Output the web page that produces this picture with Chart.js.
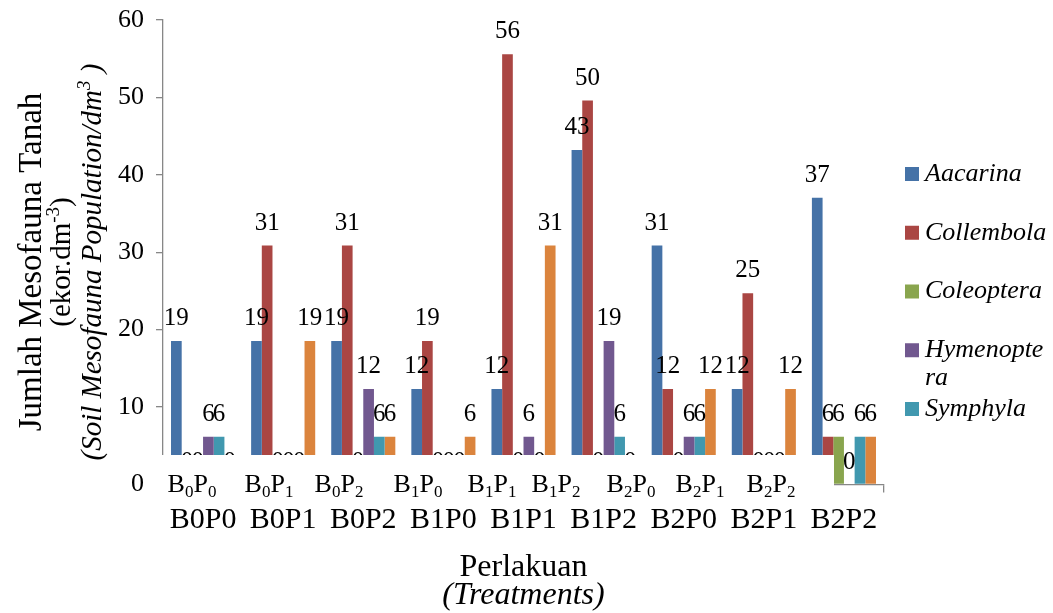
<!DOCTYPE html>
<html>
<head>
<meta charset="utf-8">
<title>Jumlah Mesofauna Tanah</title>
<script src="https://cdn.jsdelivr.net/npm/chart.js@4.4.1/dist/chart.umd.min.js"></script>
<style>
  html, body { margin: 0; padding: 0; background: #ffffff; }
  #wrap { width: 1053px; height: 613px; position: relative; }
</style>
</head>
<body>
<div id="wrap"><canvas id="chart" width="1053" height="613"></canvas></div>
<script>
// ---- data (ekor.dm-3) ----
const categories  = ['B0P0', 'B0P1', 'B0P2', 'B1P0', 'B1P1', 'B1P2', 'B2P0', 'B2P1', 'B2P2'];
const seriesNames = ['Aacarina', 'Collembola', 'Coleoptera', 'Hymenoptera', 'Symphyla', 'Protura'];
const aacarina    = [18.52, 18.52, 18.52, 12.35, 12.35, 43.21, 30.86, 12.35, 37.04];
const collembola  = [0, 30.86, 30.86, 18.52, 55.56, 49.6, 12.35, 24.69, 6.17];
const coleoptera  = [0, 0, 0, 0, 0, 0, 0, 0, 6.17];
const hymenoptera = [6.17, 0, 12.35, 0, 6.17, 18.52, 6.17, 0, 0];
const symphyla    = [6.17, 0, 6.17, 0, 0, 6.17, 6.17, 0, 6.17];
const protura     = [0, 18.52, 6.17, 6.17, 30.86, 0, 12.35, 12.35, 6.17];
const yTicks      = [0, 10, 20, 30, 40, 50, 60];

// ---- look ----
const SERIF = '"Liberation Serif", "Times New Roman", serif';
const COLORS = ['#4572A7', '#AA4643', '#89A54E', '#71588F', '#4198AF', '#DB843D'];
const AXIS_GREY = '#878787';
// text box with subscripted treatment codes laid over the foot of the bars
const BOX = { left: 150, top: 455, right: 834, bottom: 503 };
const BOX_LABEL_X = [192, 269, 339, 418, 492, 556, 631, 700, 771];
const BOX_BASELINE = 492;

function font(size, italic) {
  return (italic ? 'italic ' : '') + size + 'px ' + SERIF;
}

// draws a row of text runs (used for sub/superscripts)
function drawRuns(ctx, runs, x, y, align) {
  let total = 0;
  runs.forEach(r => {
    ctx.font = font(r.size, r.italic);
    r.w = ctx.measureText(r.t).width;
    total += r.w;
  });
  let cx = align === 'center' ? x - total / 2 : (align === 'right' ? x - total : x);
  ctx.textAlign = 'left';
  runs.forEach(r => {
    ctx.font = font(r.size, r.italic);
    ctx.fillText(r.t, cx, y + (r.dy || 0));
    cx += r.w;
  });
}

// character-level wrapping like the legend box does
function wrapChars(ctx, text, maxW) {
  const lines = [];
  let cur = '';
  for (const ch of text) {
    if (cur && ctx.measureText(cur + ch).width > maxW) { lines.push(cur); cur = ch; }
    else cur += ch;
  }
  if (cur) lines.push(cur);
  return lines;
}

const annotations = {
  id: 'annotations',
  afterDatasetsDraw(chart) {
    const ctx = chart.ctx;
    ctx.save();
    // value labels above each bar
    ctx.fillStyle = '#000';
    ctx.font = font(25, false);
    ctx.textAlign = 'center';
    ctx.textBaseline = 'alphabetic';
    chart.data.datasets.forEach((ds, i) => {
      const meta = chart.getDatasetMeta(i);
      meta.data.forEach((bar, j) => {
        const v = ds.data[j];
        ctx.fillText(String(Math.round(v)), bar.x, bar.y - 16);
      });
    });

    // white text box with the subscripted codes
    ctx.fillStyle = '#ffffff';
    ctx.fillRect(BOX.left, BOX.top, BOX.right - BOX.left, BOX.bottom - BOX.top);
    ctx.fillStyle = '#000';
    categories.forEach((c, k) => {
      const m = c.match(/^([A-Z])(\d)([A-Z])(\d)$/);
      drawRuns(ctx, [
        { t: m[1], size: 26 },
        { t: m[2], size: 17, dy: 5 },
        { t: m[3], size: 26 },
        { t: m[4], size: 17, dy: 5 }
      ], BOX_LABEL_X[k], BOX_BASELINE, 'center');
    });
    ctx.restore();
  },
  afterDraw(chart) {
    const ctx = chart.ctx;
    const area = chart.chartArea;
    ctx.save();
    ctx.fillStyle = '#000';
    ctx.textBaseline = 'alphabetic';

    // y axis title (three rotated lines)
    const cy = 262;
    const yTitle = [
      { x: 41, runs: [{ t: 'Jumlah Mesofauna Tanah', size: 33 }] },
      { x: 70, runs: [{ t: '(ekor.dm', size: 29 }, { t: '-3', size: 19, dy: -11 }, { t: ')', size: 29 }] },
      { x: 101, runs: [{ t: '(Soil Mesofauna Population/dm', size: 29, italic: true },
                       { t: '3', size: 19, italic: true, dy: -11 },
                       { t: ' )', size: 29, italic: true }] }
    ];
    yTitle.forEach(line => {
      ctx.save();
      ctx.translate(line.x, cy);
      ctx.rotate(-Math.PI / 2);
      drawRuns(ctx, line.runs, 0, 0, 'center');
      ctx.restore();
    });

    // x axis title
    const cx = (area.left + area.right) / 2;
    drawRuns(ctx, [{ t: 'Perlakuan', size: 32 }], cx, 576, 'center');
    drawRuns(ctx, [{ t: '(Treatments)', size: 32, italic: true }], cx, 604, 'center');

    // legend (box is clipped at its lower edge)
    ctx.save();
    ctx.beginPath();
    ctx.rect(890, 140, 163, 290);
    ctx.clip();
    ctx.textBaseline = 'middle';
    ctx.font = font(26, true);
    chart.data.datasets.forEach((ds, i) => {
      const y = 174 + i * 58.75;
      ctx.fillStyle = ds.backgroundColor;
      ctx.fillRect(905, y - 7, 14, 14);
      ctx.fillStyle = '#000';
      ctx.textAlign = 'left';
      const lines = wrapChars(ctx, ds.label, 124);
      lines.forEach((ln, k) => ctx.fillText(ln, 925, y + k * 28));
    });
    ctx.restore();
    ctx.restore();
  }
};

const seriesValues = [aacarina, collembola, coleoptera, hymenoptera, symphyla, protura];

new Chart(document.getElementById('chart'), {
  type: 'bar',
  data: {
    labels: categories,
    datasets: seriesValues.map((vals, i) => ({
      label: seriesNames[i],
      data: vals,
      backgroundColor: COLORS[i],
      borderWidth: 0,
      barPercentage: 1.0,
      categoryPercentage: 0.8
    }))
  },
  options: {
    responsive: false,
    animation: false,
    devicePixelRatio: 1,
    layout: { padding: { left: 0, right: 169, top: 20, bottom: 0 } },
    plugins: {
      legend: { display: false },
      title: { display: false },
      tooltip: { enabled: false }
    },
    scales: {
      x: {
        offset: true,
        grid: { display: true, drawOnChartArea: false, offset: true, tickLength: 8, color: AXIS_GREY, lineWidth: 1.3 },
        border: { color: AXIS_GREY, width: 1.3 },
        ticks: { color: '#000', font: { family: SERIF, size: 30 }, padding: 10, maxRotation: 0, autoSkip: false },
        afterFit(s) { s.height = 613 - 484.5; s.paddingLeft = 0; s.paddingRight = 0; }
      },
      y: {
        min: 0,
        max: 60,
        afterBuildTicks(s) { s.ticks = yTicks.map(v => ({ value: v })); },
        grid: { display: true, drawOnChartArea: false, tickLength: 7, color: AXIS_GREY, lineWidth: 1.3 },
        border: { color: AXIS_GREY, width: 1.3 },
        ticks: { color: '#000', font: { family: SERIF, size: 26 }, padding: 12 },
        afterFit(s) { s.width = 163; s.paddingTop = 0; s.paddingBottom = 0; }
      }
    }
  },
  plugins: [annotations]
});
</script>
</body>
</html>
